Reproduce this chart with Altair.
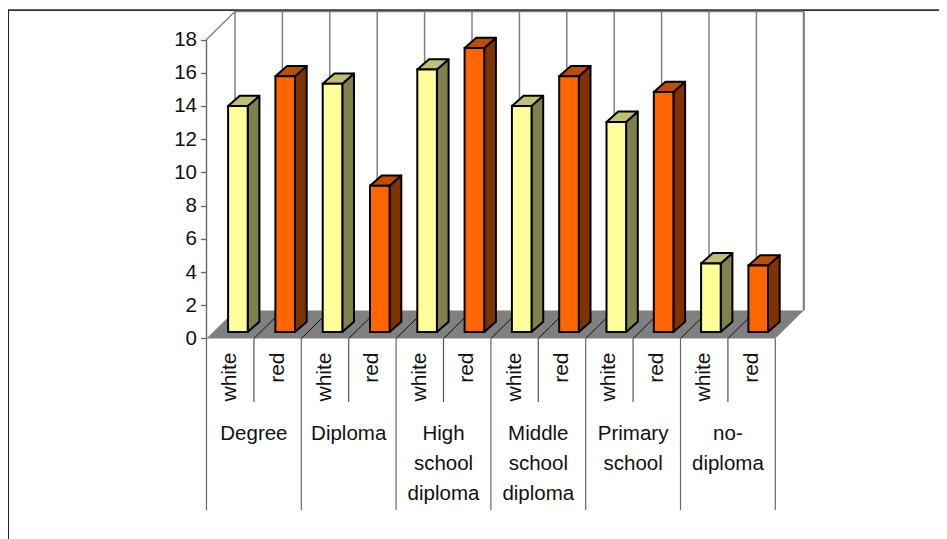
import altair as alt
import pandas as pd

# ---- chart values ----
levels = ["Degree", "Diploma", "High school diploma", "Middle school diploma", "Primary school", "no-diploma"]
level_lines = [["Degree"], ["Diploma"], ["High", "school", "diploma"], ["Middle", "school", "diploma"], ["Primary", "school"], ["no-", "diploma"]]
wine_types = ["white", "red"]
white_values = [13.6, 14.95, 15.8, 13.6, 12.65, 4.13]
red_values = [15.4, 8.8, 17.1, 15.4, 14.45, 4.0]
y_ticks = [0, 2, 4, 6, 8, 10, 12, 14, 16, 18]

# ---- geometry: x unit = one bar slot, y unit = one value unit ----
W, H = 931, 531
SLOT = 47.4
UNIT = 16.61
ORIGIN_X, ORIGIN_Y = 206.5, 338.5   # page position of slot 0, value 0
def ux(px): return (px - ORIGIN_X) / SLOT
def uy(py): return (ORIGIN_Y - py) / UNIT
xs = alt.Scale(domain=[ux(8), ux(8 + W)], zero=False, nice=False)
ys = alt.Scale(domain=[uy(8 + H), uy(8)], zero=False, nice=False)
X = lambda f="x": alt.X(f"{f}:Q", scale=xs, axis=None)
Y = lambda f="y": alt.Y(f"{f}:Q", scale=ys, axis=None)

N = len(levels) * 2
DX, DY = 28.5 / SLOT, 28 / UNIT           # depth of the floor
BDX, BDY = 11.7 / SLOT, 10.3 / UNIT       # depth of a bar
B0, BW = 21.6 / SLOT, 19.6 / SLOT         # bar start inside its slot, bar width
BASE = 6.5 / UNIT                         # bar foot above the front edge
BSTEP = 47.3 / SLOT

front, side, top = [], [], []
slot = 0
for i in range(len(levels)):
    for t, val in zip(wine_types, (white_values[i], red_values[i])):
        x0 = slot * BSTEP + B0
        x1 = x0 + BW
        v = BASE + val
        front.append(dict(id=slot, t=t, x=x0, x2=x1, y=BASE, y2=v))
        side.append(dict(id=slot, t=t, x=x1, y=BASE, y2=v))
        side.append(dict(id=slot, t=t, x=x1 + BDX, y=BASE + BDY, y2=v + BDY))
        top.append(dict(id=slot, t=t, y=v, x=x0, x2=x1))
        top.append(dict(id=slot, t=t, y=v + BDY, x=x0 + BDX, x2=x1 + BDX))
        slot += 1

col = lambda a, b: alt.Color("t:N", scale=alt.Scale(domain=wine_types, range=[a, b]), legend=None)
BS = 2

side_l = alt.Chart(pd.DataFrame(side)).mark_area(stroke="black", strokeWidth=BS, strokeJoin="round").encode(
    x=X(), y=Y(), y2="y2:Q", detail="id:N", color=col("#80804D", "#7F3300"))
top_l = alt.Chart(pd.DataFrame(top)).mark_area(orient="horizontal", stroke="black", strokeWidth=BS, strokeJoin="round").encode(
    y=Y(), x=X(), x2="x2:Q", detail="id:N", color=col("#BFBF73", "#BF4D00"))
front_l = alt.Chart(pd.DataFrame(front)).mark_rect(stroke="black", strokeWidth=BS).encode(
    x=X(), x2="x2:Q", y=Y(), y2="y2:Q", color=col("#FFFF99", "#FF6600"))

# frame
frame_top = alt.Chart(pd.DataFrame([dict(x=ux(8), x2=ux(8 + W))])).mark_rule(color="#333333", strokeWidth=1.8).encode(
    x=X(), x2="x2:Q", y=alt.datum(uy(10.2), scale=ys, axis=None))
frame_left = alt.Chart(pd.DataFrame([dict(y=uy(10), y2=uy(8 + H))])).mark_rule(color="#222222", strokeWidth=1.5).encode(
    x=alt.datum(ux(8.3), scale=xs, axis=None), y=Y(), y2="y2:Q")

# back wall
wall_v = alt.Chart(pd.DataFrame([dict(x=DX + k, y=DY, y2=18 + DY) for k in range(N)])).mark_rule(color="#808080", strokeWidth=1.5).encode(
    x=X(), y=Y(), y2="y2:Q")
wall_r = alt.Chart(pd.DataFrame([dict(x=DX + N, y=DY, y2=18 + DY)])).mark_rule(color="#808080", strokeWidth=2.2).encode(
    x=X(), y=Y(), y2="y2:Q")
wall_t = alt.Chart(pd.DataFrame([dict(x=DX, x2=DX + N, y=18 + DY)])).mark_rule(color="#808080", strokeWidth=1.5).encode(
    x=X(), x2="x2:Q", y=Y())
wall_l = alt.Chart(pd.DataFrame([dict(x=0, y=18), dict(x=DX, y=18 + DY)])).mark_line(color="#808080", strokeWidth=1.4).encode(
    x=X(), y=Y())
floor = alt.Chart(pd.DataFrame([dict(y=0, x=0, x2=N), dict(y=DY, x=DX, x2=DX + N)])).mark_area(orient="horizontal", color="#808080").encode(
    y=Y(), x=X(), x2="x2:Q")
diag_rows = []
for k in range(1, N):
    diag_rows += [dict(k=k, x=k, y=0), dict(k=k, x=k + DX, y=DY)]
diag = alt.Chart(pd.DataFrame(diag_rows)).mark_line(color="#111111", strokeWidth=1).encode(x=X(), y=Y(), detail="k:N")

# y axis
y_axis = alt.Chart(pd.DataFrame({"v": y_ticks})).mark_rule(opacity=0).encode(
    y=alt.Y("v:Q", scale=ys, axis=alt.Axis(values=y_ticks, offset=-(ORIGIN_X - 8), domain=False, grid=False,
        title=None, tickSize=6, tickColor="#666666", tickWidth=1.3, labelFont="Liberation Sans", labelFontSize=20.5,
        labelColor="#111111", labelPadding=4, format="d")))
y_line = alt.Chart(pd.DataFrame([dict(x=0, y=0, y2=18)])).mark_rule(color="#666666", strokeWidth=1.4).encode(x=X(), y=Y(), y2="y2:Q")

# category table under the floor
sub_seps = alt.Chart(pd.DataFrame([dict(x=k, y=0, y2=uy(402)) for k in range(1, N, 2)])).mark_rule(color="#555555", strokeWidth=1.2).encode(
    x=X(), y=Y(), y2="y2:Q")
cat_seps = alt.Chart(pd.DataFrame([dict(x=k, y=0, y2=uy(510)) for k in range(0, N + 1, 2)])).mark_rule(color="#666666", strokeWidth=1.2).encode(
    x=X(), y=Y(), y2="y2:Q")
sub_rows = [dict(x=k + 0.5, y=uy(352.5), label=wine_types[k % 2]) for k in range(N)]
sub_text = alt.Chart(pd.DataFrame(sub_rows)).mark_text(angle=270, font="Liberation Sans", fontSize=21, color="#111111", baseline="middle", align="right").encode(
    x=X(), y=Y(), text="label:N")
cat_rows = []
for i, lines in enumerate(level_lines):
    for j, line in enumerate(lines):
        cat_rows.append(dict(x=2 * i + 1, y=uy(433.5 + 30 * j), label=line))
cat_text = alt.Chart(pd.DataFrame(cat_rows)).mark_text(font="Liberation Sans", fontSize=20.5, color="#111111", baseline="middle", align="center").encode(
    x=X(), y=Y(), text="label:N")

chart = alt.layer(
    frame_top, frame_left, wall_v, wall_r, wall_t, wall_l, floor, diag,
    y_axis, y_line, sub_seps, cat_seps, sub_text, cat_text,
    side_l, top_l, front_l,
).resolve_scale(color="independent").resolve_axis(y="independent").properties(
    width=W, height=H, padding=0, autosize=alt.AutoSizeParams(type="none")
).configure_view(stroke=None)

chart.save("out.html", embed_options={"renderer": "svg", "actions": False})
